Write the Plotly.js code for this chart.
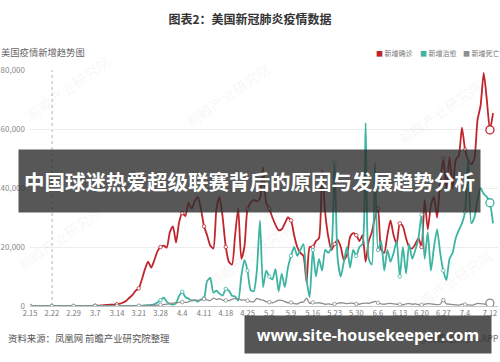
<!DOCTYPE html>
<html>
<head>
<meta charset="utf-8">
<script src="https://cdn.plot.ly/plotly-3.0.1.min.js"></script>
<style>
  html, body { margin: 0; padding: 0; background: #fff; }
  #chart { width: 500px; height: 362px; }
</style>
</head>
<body>
<div id="chart"></div>
<script>
// Daily series, 2020-02-15 .. 2020-07-13 (150 days)
const startMonth = 2, startDay = 15, dayCount = 150;

const confirmed = [
  0,0,0,0,0,0,1,0,2,1,
  1,3,4,6,8,10,20,25,30,50,
  70,100,120,180,300,400,450,500,600,800,
  1200,1800,2800,3800,5200,6000,9000,12500,15000,13000,
  15500,18500,20000,20500,19800,25000,27000,21500,28500,31500,
  30500,35000,33000,35500,37000,33000,27000,24000,20500,19500,
  33000,37000,30000,20000,15000,14000,24000,33000,16000,20000,
  33000,35000,36000,35500,36500,47000,35000,33000,30000,27500,
  25700,26000,28000,30000,29000,24000,20000,18000,17000,8000,
  20000,20000,22000,23000,46000,31500,23400,19000,21000,22400,
  20000,15600,17300,23400,24700,24000,22000,24000,15000,22000,
  25000,30000,33000,19000,18000,24000,29000,24000,21000,28000,
  27000,23000,20000,19500,21000,23000,20000,36000,26000,34000,
  37000,30000,42000,50000,40000,50500,40000,49500,51000,60500,
  53000,49500,48000,50000,63000,68000,79000,70000,59700,65400
];

const recovered = [
  0,0,0,0,0,0,0,0,0,0,
  0,0,0,0,0,0,0,0,0,0,
  0,0,0,0,0,0,0,0,0,5,
  10,10,20,20,30,50,100,200,300,400,
  600,1200,2000,2800,1500,700,500,1000,3500,4800,
  3000,2500,1800,2000,1500,2200,2600,8500,9500,4500,
  5200,4200,3500,5800,5200,3500,3200,1800,10000,15600,
  12000,5400,5000,12000,29000,6400,12000,10000,9000,12500,
  5000,11000,6400,13000,17000,20000,17000,19000,21000,9000,
  3000,19000,10000,16000,12000,19000,18000,20000,48500,16000,
  10000,15000,20000,13000,19000,17000,20000,21000,62000,16000,
  14000,48500,19000,22000,12000,19000,15000,18000,22000,10000,
  20000,11000,21000,16000,19000,23000,31000,16000,25000,12000,
  20000,26000,18000,12000,8800,16000,18000,23000,25700,28000,
  32000,50000,28000,30000,36000,40000,38000,37000,35000,28000
];

const deaths = [
  0,0,0,0,0,0,0,0,0,0,
  0,0,0,0,1,1,2,3,2,4,
  3,4,4,5,8,7,10,12,15,20,
  25,30,40,50,60,70,80,100,150,200,
  250,300,450,500,600,900,1000,1100,1200,1300,
  1200,1400,1900,2000,1900,2000,2400,2100,1800,2700,
  2200,2500,2000,1900,1800,2300,2500,2600,2000,2100,
  1800,1500,1400,2600,2200,2000,1500,1300,1100,1500,
  2000,1900,1500,1100,1200,800,700,1200,1400,2700,
  900,1200,1000,1100,900,600,700,500,700,900,
  1100,1000,800,1000,900,700,600,900,1000,900,
  1200,1600,1100,700,600,800,900,700,600,500,
  400,700,800,600,700,500,400,600,800,700,
  600,500,600,2000,700,600,500,400,300,600,
  500,400,300,500,900,800,700,600,1000,800
];

const tickLabels = ["2.15","2.22","2.29","3.7","3.14","3.21","3.28","4.4","4.11","4.18",
  "4.25","5.2","5.9","5.16","5.23","5.30","6.6","6.13","6.20","6.27","7.4","7.12"];
const focusDay = "7.12";

const seriesNames = ["新增确诊", "新增治愈", "新增死亡"];
const seriesColors = ["#c0252b", "#3cb4a1", "#8e8e8e"];

// "M.D" day labels for the category axis
function buildDays(month, day, n) {
  const monthLen = {1:31, 2:29, 3:31, 4:30, 5:31, 6:30, 7:31, 8:31};
  const out = [];
  for (let k = 0; k < n; k++) {
    out.push(month + "." + day);
    day++;
    if (day > monthLen[month]) { day = 1; month++; }
  }
  return out;
}
const days = buildDays(startMonth, startDay, dayCount);

const allSeries = [confirmed, recovered, deaths];
const traces = [];

allSeries.forEach((vals, s) => {
  traces.push({
    type: "scatter", mode: "lines", x: days, y: vals,
    name: seriesNames[s], showlegend: false, hoverinfo: "skip",
    line: { color: seriesColors[s], width: s === 2 ? 1.3 : 1.8, shape: "spline", smoothing: 0.6 }
  });
});

// small hollow circles on the labelled days
allSeries.forEach((vals, s) => {
  const xs = [], ys = [];
  days.forEach((d, i) => {
    if (tickLabels.indexOf(d) >= 0 && d !== focusDay) { xs.push(d); ys.push(vals[i]); }
  });
  traces.push({
    type: "scatter", mode: "markers", x: xs, y: ys, showlegend: false, hoverinfo: "skip",
    marker: { symbol: "circle", size: 3.5, color: "#ffffff", line: { color: seriesColors[s], width: 0.8 } }
  });
});

// highlighted points on the pointer day
allSeries.forEach((vals, s) => {
  const i = days.indexOf(focusDay);
  traces.push({
    type: "scatter", mode: "markers", x: [days[i]], y: [vals[i]], showlegend: false, hoverinfo: "skip",
    marker: { symbol: "circle", size: 8, color: "#ffffff", line: { color: seriesColors[s], width: 1.3 } }
  });
});

const cjk = "'Noto Sans CJK SC', 'Noto Sans', sans-serif";

const legendX = [0.735, 0.828, 0.92];
const legendAnn = seriesNames.map((nm, s) => ({
  xref: "paper", yref: "paper", x: legendX[s], y: 1.072, xanchor: "left", yanchor: "middle",
  showarrow: false,
  text: '<span style="color:' + seriesColors[s] + '">■</span> ' + nm,
  font: { family: cjk, size: 7, color: "#777" }
}));

// faint brand marks scattered over the plot
const markSpots = [[68, 88], [228, 95], [440, 112], [60, 238], [250, 255], [450, 282]];
const markAnn = markSpots.map(p => ({
  xref: "paper", yref: "paper", x: (p[0] - 30) / 468, y: (306 - p[1]) / 236,
  xanchor: "center", yanchor: "middle", showarrow: false, textangle: -35,
  text: "前瞻产业研究院", font: { family: cjk, size: 14, color: "rgba(0,0,0,0.06)" }
}));

const layout = {
  width: 500, height: 362,
  margin: { l: 30, r: 2, t: 70, b: 56 },
  paper_bgcolor: "#ffffff", plot_bgcolor: "#ffffff",
  showlegend: false,
  title: {
    text: "<b>图表2：美国新冠肺炎疫情数据</b>",
    x: 0.5, xanchor: "center", y: 0.945, yanchor: "middle",
    font: { family: cjk, size: 12, color: "#333" }
  },
  xaxis: {
    type: "category", range: [0, 150.6],
    tickmode: "array", tickvals: tickLabels, ticktext: tickLabels,
    showgrid: false, zeroline: false, showline: true, linecolor: "#c8c8c8", linewidth: 1,
    ticks: "", tickfont: { family: cjk, size: 7.5, color: "#777" }
  },
  yaxis: {
    range: [0, 80000], tickvals: [0, 20000, 40000, 60000, 80000], tickformat: ",d",
    showgrid: true, gridcolor: "#ececec", gridwidth: 1, zeroline: false, showline: false,
    ticks: "", ticklabelstandoff: 4, tickfont: { family: cjk, size: 8, color: "#888" }
  },
  shapes: [{
    type: "line", xref: "x", yref: "paper", x0: focusDay, x1: focusDay, y0: 0, y1: 1,
    line: { color: "#b5b5b5", width: 1, dash: "dot" }, layer: "below"
  }],
  annotations: markAnn.concat(legendAnn).concat([
    {
      xref: "paper", yref: "paper", x: -0.067, y: 1.076, xanchor: "left", yanchor: "middle",
      showarrow: false, text: "美国疫情新增趋势图",
      font: { family: cjk, size: 9.3, color: "#666" }
    },
    {
      xref: "paper", yref: "paper", x: -0.051, y: -0.136, xanchor: "left", yanchor: "middle",
      showarrow: false, text: "资料来源：凤凰网 前瞻产业研究院整理",
      font: { family: cjk, size: 9.4, color: "#555" }
    },
    {
      xref: "paper", yref: "paper", x: 1.007, y: -0.136, xanchor: "right", yanchor: "middle",
      showarrow: false, text: "@前瞻经济学人APP",
      font: { family: cjk, size: 9, color: "#777" }
    },
    {
      xref: "paper", yref: "paper", x: 0.722, y: -0.119, xanchor: "center", yanchor: "middle",
      showarrow: false, text: "<b>www.site-housekeeper.com</b>",
      width: 246, height: 37, borderpad: 0, bgcolor: "rgba(48,48,48,0.82)",
      font: { family: "'Open Sans', 'DejaVu Sans', sans-serif", size: 16, color: "#ffffff" }
    },
    {
      xref: "paper", yref: "paper", x: 0.4685, y: 0.53, xanchor: "center", yanchor: "middle",
      showarrow: false, text: "<b>中国球迷热爱超级联赛背后的原因与发展趋势分析</b>",
      width: 461, height: 62, borderpad: 0, bgcolor: "rgba(45,45,45,0.8)",
      font: { family: cjk, size: 20.5, color: "#ffffff" }
    }
  ])
};

Plotly.newPlot("chart", traces, layout, { staticPlot: true, displayModeBar: false });
</script>
</body>
</html>
